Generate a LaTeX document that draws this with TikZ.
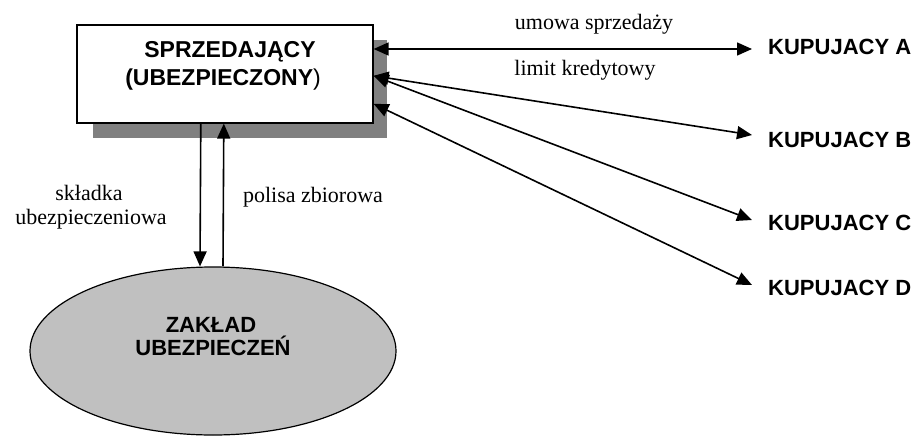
\documentclass[tikz,border=0pt]{standalone}
\usepackage{fontspec}
\setmainfont{Liberation Serif}
\setsansfont{Liberation Sans}
\usetikzlibrary{arrows.meta,shapes.geometric}
\definecolor{shadowgray}{HTML}{808080}
\definecolor{insurerfill}{HTML}{C0C0C0}

\begin{document}
\begin{tikzpicture}[x=1pt,y=-1pt,
  tip/.tip={Triangle[length=15pt,width=13pt]},
  conn/.style={line width=1.6pt, -tip},
  both/.style={line width=1.6pt, tip-tip},
  head/.style={font=\sffamily\bfseries\fontsize{22}{24}\selectfont, inner sep=0pt},
  lbl/.style={font=\fontsize{22}{24}\selectfont, inner sep=0pt, anchor=base},
]
\useasboundingbox (0,0) rectangle (915,436);

% seller box with its drop shadow
\node[fill=shadowgray, minimum width=294pt, minimum height=98pt, inner sep=0pt,
      anchor=north west] (shadow) at (93,40) {};
\node[draw, line width=1.6pt, fill=white, minimum width=296pt, minimum height=98pt,
      inner sep=0pt, anchor=north west] (seller) at (76,24) {};
\node[head, font=\sffamily\bfseries\fontsize{23}{25}\selectfont, anchor=base]
  (sellerA) at (230,58) {SPRZEDAJĄCY};
\node[head, font=\sffamily\bfseries\fontsize{23}{25}\selectfont, anchor=base]
  (sellerB) at (223,85) {(UBEZPIECZONY\mdseries)};

% insurer
\node[ellipse, draw, line width=1.2pt, fill=insurerfill, minimum width=366pt,
      minimum height=168pt, inner sep=0pt] (insurer) at (213,351) {};
\node[head, anchor=base] (insurerA) at (211,332) {ZAKŁAD};
\node[head, anchor=base] (insurerB) at (213,355) {UBEZPIECZEŃ};

% buyers
\node[head, anchor=base west] (buyA) at (768,55) {KUPUJACY A};
\node[head, anchor=base west] (buyB) at (768,147) {KUPUJACY B};
\node[head, anchor=base west] (buyC) at (768,230) {KUPUJACY C};
\node[head, anchor=base west] (buyD) at (768,295) {KUPUJACY D};
\coordinate (tA) at (752,49);
\coordinate (tB) at (752,135);
\coordinate (tC) at (752,220);
\coordinate (tD) at (752,285);

% seller <-> buyers
\draw[both] (seller.east |- tA) -- (tA);
\draw[both] ([yshift=-2pt]seller.east) -- (tB);
\draw[both] ([yshift=-2pt]seller.east) -- (tC);
\draw[both] ([yshift=-30pt]seller.east) -- (tD);
\node[lbl] (umowa) at (594,30) {umowa sprzedaży};
\node[lbl] (limit) at (585,75) {limit kredytowy};

% seller <-> insurer
\draw[conn] ([xshift=-24pt]seller.south) -- ([xshift=-13pt]insurer.north);
\draw[conn] ([xshift=10pt]insurer.north) -- ([xshift=-1pt]seller.south);
\node[lbl] (skladka) at (89,200) {składka};
\node[lbl] (skladkaB) at (91,224) {ubezpieczeniowa};
\node[lbl] (polisa) at (313,202) {polisa zbiorowa};
\end{tikzpicture}
\end{document}
